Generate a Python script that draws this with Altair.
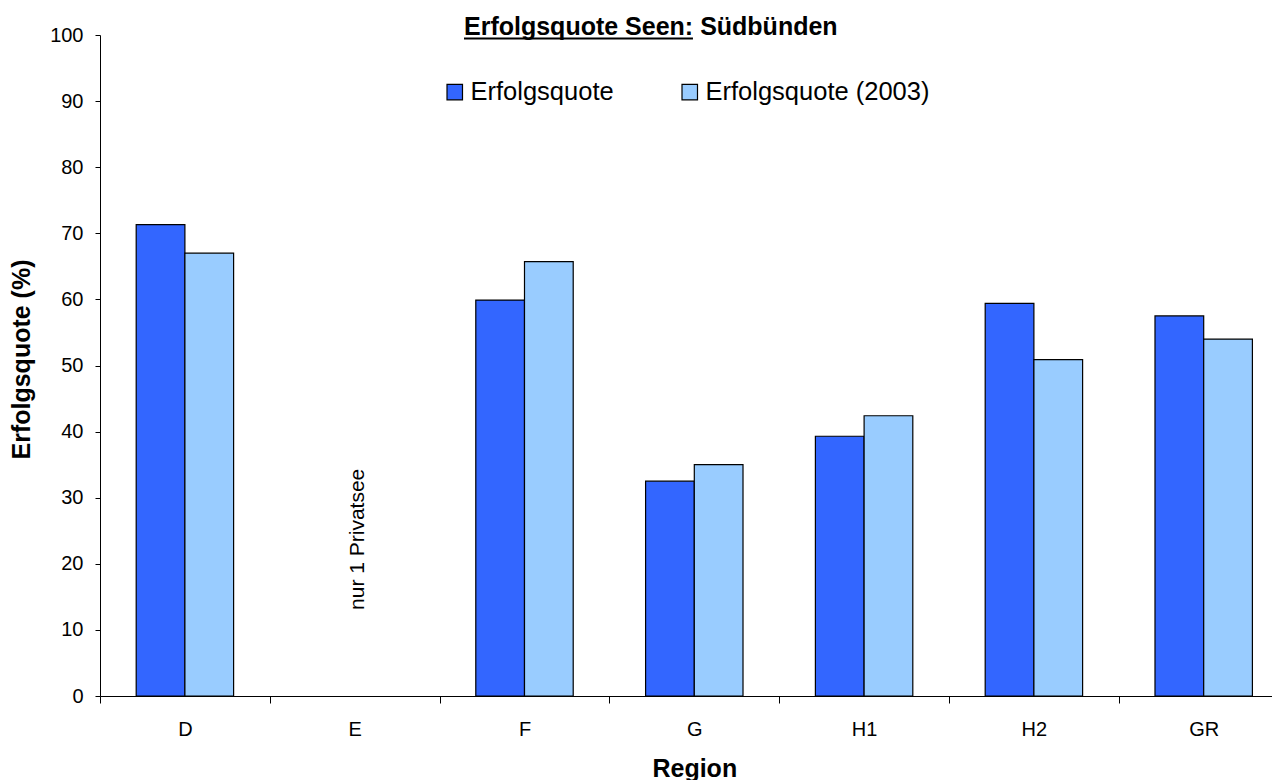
import altair as alt
import pandas as pd

# ---- data ----
regions = ["D", "E", "F", "G", "H1", "H2", "GR"]
series_names = ["Erfolgsquote", "Erfolgsquote (2003)"]
quote = [71.3, None, 59.9, 32.5, 39.3, 59.4, 57.5]
quote_2003 = [67.0, None, 65.7, 35.0, 42.4, 50.9, 54.0]
series_colors = ["#3366FF", "#99CCFF"]
y_ticks = [0, 10, 20, 30, 40, 50, 60, 70, 80, 90, 100]

chart_title = "Erfolgsquote Seen: Südbünden"
title_underlined_part = "Erfolgsquote Seen:"
x_title = "Region"
y_title = "Erfolgsquote (%)"
note_region = ["E"]
note_value = [23.7]
note_text = ["nur 1 Privatsee"]

rows = []
for r, a, b in zip(regions, quote, quote_2003):
    if a is not None:
        rows.append({"Region": r, "Serie": series_names[0], "Wert": a})
    if b is not None:
        rows.append({"Region": r, "Serie": series_names[1], "Wert": b})
df = pd.DataFrame(rows)

FONT = "Liberation Sans"
STEP = 169.8
W = 1172
H = 661
TITLE_FS = 25
TITLE_X = 364

x_scale = alt.Scale(domain=regions, range=[0, STEP * len(regions)],
                    paddingInner=0, paddingOuter=0)
y_scale = alt.Scale(domain=[0, 100], nice=False, zero=True)

bars = alt.Chart(df).mark_bar(stroke="black", strokeWidth=1.2).encode(
    x=alt.X("Region:N", scale=x_scale,
            axis=alt.Axis(title=x_title, titleFont=FONT, titleFontSize=25,
                          titleFontWeight="bold", titleColor="black",
                          titleX=STEP * len(regions) / 2, titleY=80,
                          titleAlign="center", titleBaseline="alphabetic",
                          labelAngle=0, labelFont=FONT, labelFontSize=20,
                          labelColor="black", labelPadding=16,
                          tickSize=7, tickBand="extent", tickColor="black",
                          domainColor="black", grid=False)),
    xOffset=alt.XOffset("Serie:N",
                        scale=alt.Scale(domain=series_names, paddingInner=0,
                                        paddingOuter=0.743)),
    y=alt.Y("Wert:Q", scale=y_scale,
            axis=alt.Axis(values=y_ticks, title=y_title, titleFont=FONT,
                          titleFontSize=25, titleFontWeight="bold",
                          titleColor="black", titleAngle=270,
                          titleX=-71, titleY=324, titleAlign="center",
                          titleBaseline="alphabetic",
                          labelFont=FONT, labelFontSize=20, labelColor="black",
                          labelPadding=12, tickSize=5, tickColor="black",
                          domainColor="black", grid=False)),
    color=alt.Color("Serie:N",
                    scale=alt.Scale(domain=series_names, range=series_colors),
                    legend=alt.Legend(title=None, orient="none", legendX=342,
                                      legendY=44, direction="horizontal",
                                      symbolType="square", symbolSize=240,
                                      symbolStrokeColor="black",
                                      symbolStrokeWidth=1.2,
                                      labelFont=FONT, labelFontSize=25.5,
                                      labelColor="black", labelOffset=3,
                                      labelLimit=500,
                                      columnPadding=63, padding=0)),
)

note = alt.Chart(pd.DataFrame({"Region": note_region, "Wert": note_value,
                               "t": note_text})).mark_text(
    angle=270, font=FONT, fontSize=21, color="black",
    align="center", baseline="middle", dy=3).encode(
    x=alt.X("Region:N"), y=alt.Y("Wert:Q"), text="t:N")

title_df = pd.DataFrame({"t": [chart_title]})
title = alt.Chart(title_df).mark_text(
    font=FONT, fontSize=TITLE_FS, fontWeight="bold", color="black",
    align="left", baseline="alphabetic").encode(
    x=alt.value(TITLE_X), y=alt.value(0), text="t:N")

underline_len = 9.158 * TITLE_FS
underline = alt.Chart(title_df).mark_rule(color="black", strokeWidth=2).encode(
    x=alt.value(TITLE_X), x2=alt.value(TITLE_X + underline_len),
    y=alt.value(3.5))

chart = alt.layer(bars, note, title, underline).properties(
    width=W, height=H,
    autosize=alt.AutoSizeParams(type="none"),
    padding={"left": 92, "top": 27, "right": 0, "bottom": 84},
    background="white",
).configure_view(stroke=None)

chart.save("out.html", embed_options={"renderer": "svg", "actions": False})
